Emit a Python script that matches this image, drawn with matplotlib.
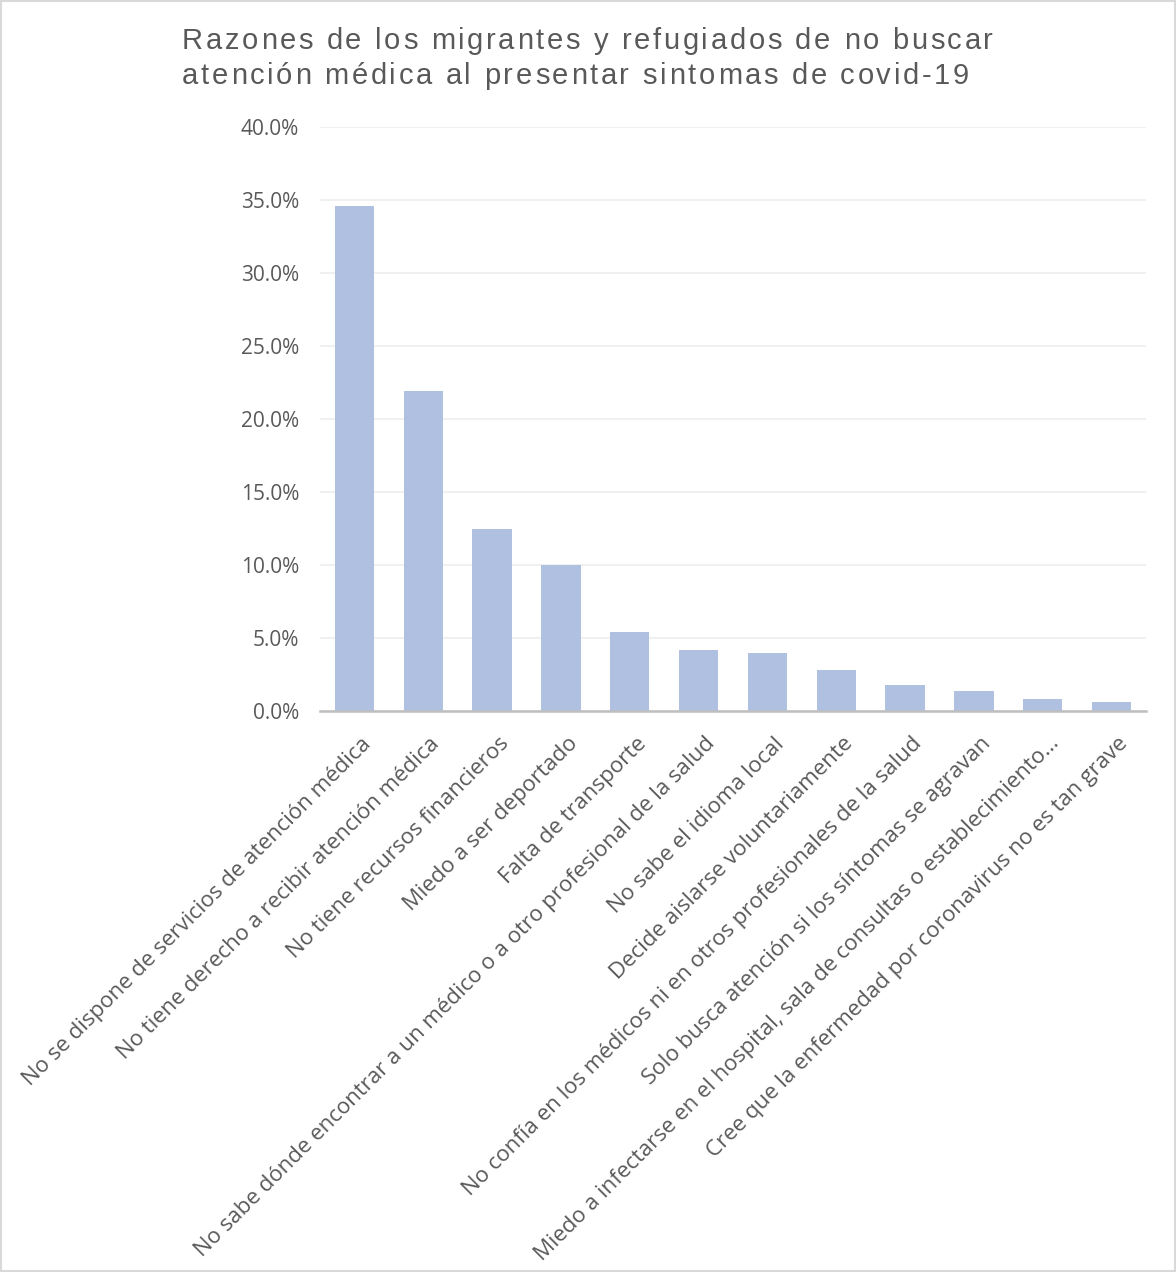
import numpy as np
import matplotlib.pyplot as plt
import matplotlib.transforms as mtransforms
from matplotlib.ticker import FuncFormatter

# Datos
razones = [
    "No se dispone de servicios de atención médica",
    "No tiene derecho a recibir atención médica",
    "No tiene recursos financieros",
    "Miedo a ser deportado",
    "Falta de transporte",
    "No sabe dónde encontrar a un médico o a otro profesional de la salud",
    "No sabe el idioma local",
    "Decide aislarse voluntariamente",
    "No confía en los médicos ni en otros profesionales de la salud",
    "Solo busca atención si los síntomas se agravan",
    "Miedo a infectarse en el hospital, sala de consultas o establecimiento…",
    "Cree que la enfermedad por coronavirus no es tan grave",
]
porcentajes = [34.6, 21.9, 12.5, 10.0, 5.4, 4.2, 4.0, 2.8, 1.8, 1.4, 0.8, 0.6]
y_ticks = [0, 5, 10, 15, 20, 25, 30, 35, 40]
titulo = ["Razones de los migrantes y refugiados de no buscar",
          "atención médica al presentar sintomas de covid-19"]

W, H = 1176, 1272
fig = plt.figure(figsize=(W / 100, H / 100), dpi=100)
ax = fig.add_axes([320 / W, 1 - 711 / H, 826 / W, 584 / H])

x = np.arange(len(razones))
ax.bar(x, porcentajes, width=0.57, color='#b0c0e1', zorder=3)

ax.set_xlim(-0.5, len(razones) - 0.5)
ax.set_ylim(0, 40)
ax.set_yticks(y_ticks)
ax.yaxis.set_major_formatter(FuncFormatter(lambda v, p: f"{v:.1f}%"))
ax.grid(axis='y', color='#eeeeee', linewidth=1.2, zorder=0)

for s in ['top', 'right', 'left']:
    ax.spines[s].set_visible(False)
ax.spines['bottom'].set_color('#bfbfbf')
ax.spines['bottom'].set_linewidth(1.8)
ax.spines['bottom'].set_zorder(4)

ax.tick_params(axis='both', length=0, colors='#595959')
ax.tick_params(axis='y', pad=15, labelsize=15)
ax.tick_params(axis='x', pad=16)
ax.set_xticks(x)
ax.set_xticklabels(razones, rotation=45, ha='right', va='top',
                   rotation_mode='anchor', fontfamily='Open Sans', fontsize=16)
desplazar = mtransforms.ScaledTranslation(6 / 100, 0, fig.dpi_scale_trans)
for lab in ax.get_xticklabels():
    lab.set_transform(lab.get_transform() + desplazar)
for lab in ax.get_yticklabels():
    lab.set_fontfamily('Open Sans')

# título con un poco de espaciado entre letras
renderer = fig.canvas.get_renderer()
props = dict(fontsize=21, fontfamily='Liberation Sans', color='#595959')


def ancho(s):
    t = fig.text(0, 0, s, **props)
    w = t.get_window_extent(renderer).width
    t.remove()
    return w


def titulo_espaciado(linea, x0, base, objetivo):
    ref = ancho("l")
    pos = [ancho(linea[:i] + "l") - ref for i in range(len(linea))]
    extra = (objetivo - ancho(linea)) / (len(linea) - 1)
    for i, ch in enumerate(linea):
        if ch == " ":
            continue
        fig.text((x0 + pos[i] + i * extra) / W, 1 - base / H, ch,
                 ha='left', va='baseline', **props)


titulo_espaciado(titulo[0], 182, 49, 811)
titulo_espaciado(titulo[1], 182, 84, 787)

# borde del gráfico
fig.patches.append(plt.Rectangle((0.001, 0.001), 0.998, 0.998, transform=fig.transFigure,
                                 fill=False, edgecolor='#d9d9d9', linewidth=1.5))

fig.savefig('out.png', dpi=100, facecolor='white')
